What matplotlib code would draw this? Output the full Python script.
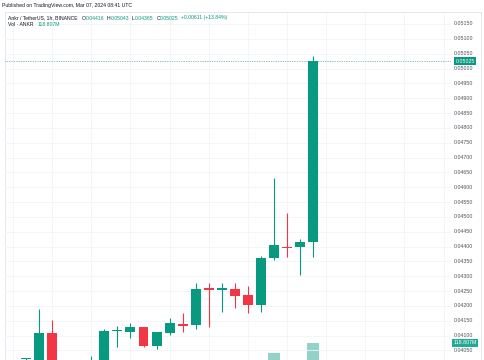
import numpy as np
import matplotlib
matplotlib.use("Agg")
import matplotlib.pyplot as plt

# hourly candles ANKR/USDT (index = bar position)
idx = list(range(1, 24))
opens = [0.04021, 0.04000, 0.04109, 0.03985, 0.03950, 0.03980, 0.04010, 0.04115, 0.04112, 0.04129,
         0.04065, 0.04109, 0.04139, 0.04136, 0.04257, 0.04255, 0.04257, 0.04237, 0.04203, 0.04362,
         0.04399, 0.04399, 0.04416]
highs = [0.04025, 0.04190, 0.04153, 0.04000, 0.04005, 0.04032, 0.04122, 0.04133, 0.04143, 0.04130,
         0.04113, 0.04160, 0.04176, 0.04277, 0.04277, 0.04277, 0.04277, 0.04267, 0.04368, 0.04631,
         0.04513, 0.04426, 0.05043]
lows = [0.03990, 0.03980, 0.03960, 0.03930, 0.03920, 0.03960, 0.04000, 0.04062, 0.04092, 0.04062,
        0.04055, 0.04102, 0.04112, 0.04122, 0.04129, 0.04180, 0.04193, 0.04176, 0.04180, 0.04355,
        0.04365, 0.04304, 0.04365]
closes = [0.04022, 0.04109, 0.03985, 0.03950, 0.03980, 0.04012, 0.04116, 0.04117, 0.04129, 0.04065,
          0.04112, 0.04143, 0.04133, 0.04257, 0.04255, 0.04257, 0.04234, 0.04203, 0.04362, 0.04405,
          0.04396, 0.04414, 0.05025]
volumes = [12.0, 35.0, 30.0, 25.0, 20.0, 22.0, 32.0, 15.0, 14.0, 20.0,
           18.0, 16.0, 12.0, 45.0, 20.0, 14.0, 18.0, 22.0, 60.0, 98.0,
           40.0, 35.0, 118.807]

price_ticks = np.arange(0.0405, 0.05151, 0.0005)
last_close = closes[-1]
last_vol = volumes[-1]

green = "#089981"
red = "#F23645"
green_vol = "#92d2c9"
red_vol = "#f7a9ae"
grid_c = "#f2f4f8"
border_c = "#e0e3eb"
text_c = "#131722"
axis_txt = "#50535e"

W, H = 485, 360
fig = plt.figure(figsize=(W / 100, H / 100), dpi=100)
fig.patch.set_facecolor("white")
plt.rcParams["font.family"] = ["Liberation Sans", "DejaVu Sans"]

# pane geometry in pixels
pl, pr, pt = 5, 451, 13
pos = [pl / W, 0, (pr - pl) / W, (H - pt) / H]

px_per_step = 14.84  # pixels per 0.0005
ppx = 0.0005 / px_per_step
y_top = 0.0515 + (24 - pt) * ppx
y_bot = 0.0515 - (H - 24) * ppx
x_lo = (pl - 13) / 13.05
x_hi = (pr - 13) / 13.05

# volume pane (behind), zero line sits ~40px under the picture edge
axv = fig.add_axes(pos)
vcol = [green_vol if c >= o else red_vol for o, c in zip(opens, closes)]
axv.bar(idx, volumes, width=0.9, color=vcol, linewidth=0)
vpx = last_vol / 57.0
axv.set_ylim(40 * vpx, (40 + H - pt) * vpx)
axv.set_xlim(x_lo, x_hi)
axv.axis("off")

ax = fig.add_axes(pos)
ax.set_zorder(2)
ax.patch.set_visible(False)
for yv in price_ticks:
    ax.axhline(yv, color=grid_c, lw=0.6, zorder=0)
for xv in range(0, 34, 3):
    ax.axvline(xv, color=grid_c, lw=0.6, zorder=0)

cols = [green if c >= o else red for o, c in zip(opens, closes)]
ax.vlines(idx, lows, highs, colors=cols, lw=0.8, zorder=2)
bottoms = [min(o, c) for o, c in zip(opens, closes)]
heights = [max(abs(c - o), ppx * 1.2) for o, c in zip(opens, closes)]
ax.bar(idx, heights, bottom=bottoms, width=0.76, color=cols, linewidth=0, zorder=3)

ax.axhline(last_close, color=green, lw=0.5, ls=(0, (1, 1.5)), zorder=1)
ax.set_xlim(x_lo, x_hi)
ax.set_ylim(y_bot, y_top)
ax.set_xticks([])
ax.set_yticks([])
for s in ax.spines.values():
    s.set_visible(False)

# price scale labels
def ypix(p):
    return 24 + (0.0515 - p) / ppx

for p in price_ticks:
    fig.text(454 / W, 1 - ypix(p) / H, f"{p:.5f}", fontsize=3.8, color=axis_txt,
             va="center", ha="left")

fig.text(465 / W, 1 - ypix(last_close) / H, f"{last_close:.5f}", fontsize=3.8,
         color="white", va="center", ha="center",
         bbox=dict(boxstyle="square,pad=0.25", fc=green, ec="none"))
fig.text(465 / W, 1 - 343 / H, f"{last_vol:.3f}M", fontsize=3.8,
         color="white", va="center", ha="center",
         bbox=dict(boxstyle="square,pad=0.25", fc="#22ab94", ec="none"))

# outer frame
frame = fig.add_axes([pl / W, 0, (481 - pl) / W, (H - 12) / H])
frame.patch.set_visible(False)
frame.set_xticks([])
frame.set_yticks([])
frame.spines["bottom"].set_visible(False)
for k in ("top", "left", "right"):
    frame.spines[k].set_color(border_c)
    frame.spines[k].set_linewidth(0.6)

# header texts, laid out piece after piece
fs = 3.7
renderer = fig.canvas.get_renderer()

def chain(parts, x0, ypx):
    x = x0
    for s, c, gap in parts:
        t = fig.text(x / W, 1 - ypx / H, s, fontsize=fs, color=c, va="center")
        bb = t.get_window_extent(renderer)
        x = bb.x1 + gap

fig.text(2 / W, 1 - 6 / H, "Published on TradingView.com, Mar 07, 2024 08:41 UTC",
         fontsize=fs, color=text_c, va="center")
chg = closes[-1] - closes[-2]
parts = [("Ankr / TetherUS, 1h, BINANCE", text_c, 4)]
for lab, val in (("O", opens[-1]), ("H", highs[-1]), ("L", lows[-1]), ("C", closes[-1])):
    parts.append((lab, text_c, 0.3))
    parts.append((f"{val:.5f}", green, 2.5))
parts.append((f"+{chg:.5f} (+{chg / closes[-2] * 100:.2f}%)", green, 0))
chain(parts, 8, 18)
chain([("Vol · ANKR", text_c, 4), (f"{last_vol:.3f}M", green, 0)], 8, 24.5)

fig.savefig("out.png", dpi=100, facecolor="white")
